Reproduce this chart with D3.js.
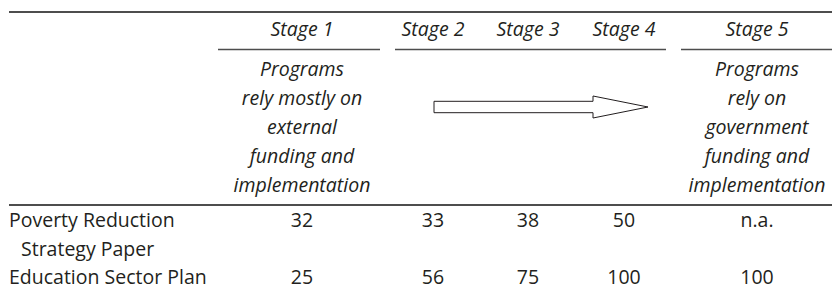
<!DOCTYPE html>
<html>
<head>
<meta charset="utf-8">
<script src="https://cdn.jsdelivr.net/npm/d3@7/dist/d3.min.js"></script>
<style>
  html, body { margin: 0; padding: 0; background: #fff; }
  svg { display: block; }
  text { font-family: "Open Sans", "Noto Sans", sans-serif; fill: #231f20; }
</style>
</head>
<body>
<svg id="chart" width="832" height="290"></svg>
<script>
// ---- data ----
const stages = ["Stage 1", "Stage 2", "Stage 3", "Stage 4", "Stage 5"];
const stage1Note = ["Programs", "rely mostly on", "external", "funding and", "implementation"];
const stage5Note = ["Programs", "rely on", "government", "funding and", "implementation"];
const rowLabels = ["Poverty Reduction Strategy Paper", "Education Sector Plan"];
const povertyValues = ["32", "33", "38", "50", "n.a."];
const educationValues = ["25", "56", "75", "100", "100"];

// ---- layout ----
const W = 832, H = 290;
const svg = d3.select("#chart");
const lineColor = "#4d4d4d";
const fs = 19.5;

const x = d3.scaleOrdinal().domain(stages).range([302, 433, 528, 624, 757]);
const groups = [
  {x0: 218, x1: 380},
  {x0: 395, x1: 666},
  {x0: 681, x1: 832}
];
const noteY = d3.scaleLinear().domain([0, 1]).range([76, 105]);

// top rule
svg.append("line").attr("x1", 9).attr("x2", W).attr("y1", 12).attr("y2", 12)
  .attr("stroke", lineColor).attr("stroke-width", 1.8);

// stage headers
svg.selectAll("text.stage").data(stages).join("text")
  .attr("class", "stage")
  .attr("x", d => x(d)).attr("y", 36)
  .attr("text-anchor", "middle")
  .attr("font-style", "italic")
  .attr("font-size", fs)
  .text(d => d);

svg.selectAll("line.grp").data(groups).join("line")
  .attr("class", "grp")
  .attr("x1", d => d.x0).attr("x2", d => d.x1)
  .attr("y1", 49.5).attr("y2", 49.5)
  .attr("stroke", lineColor).attr("stroke-width", 1.5);

// notes
function note(lines, stage) {
  svg.append("g").selectAll("text").data(lines).join("text")
    .attr("x", x(stage)).attr("y", (d, i) => noteY(i))
    .attr("text-anchor", "middle")
    .attr("font-style", "italic")
    .attr("font-size", fs)
    .text(d => d);
}
note(stage1Note, "Stage 1");
note(stage5Note, "Stage 5");

// arrow
const ax0 = 434, ax1 = 648, ahb = 593, acy = 107, sh = 5.7, hh = 11;
svg.append("path")
  .attr("d", d3.line()([
    [ax0, acy - sh], [ahb, acy - sh], [ahb, acy - hh], [ax1, acy],
    [ahb, acy + hh], [ahb, acy + sh], [ax0, acy + sh]
  ]) + "Z")
  .attr("fill", "#fff").attr("stroke", "#231f20").attr("stroke-width", 1);

// bottom rule of header
svg.append("line").attr("x1", 9).attr("x2", W).attr("y1", 205).attr("y2", 205)
  .attr("stroke", lineColor).attr("stroke-width", 1.8);

// body rows
const rowY = [227, 284];
const rows = [povertyValues, educationValues];

svg.append("text").attr("x", 9).attr("y", rowY[0]).attr("font-size", fs).text("Poverty Reduction");
svg.append("text").attr("x", 21).attr("y", 255.5).attr("font-size", fs).text("Strategy Paper");
svg.append("text").attr("x", 9).attr("y", rowY[1]).attr("font-size", fs).text(rowLabels[1]);

rows.forEach((vals, r) => {
  svg.append("g").selectAll("text").data(vals).join("text")
    .attr("x", (d, i) => x(stages[i]))
    .attr("y", rowY[r])
    .attr("text-anchor", "middle")
    .attr("font-size", fs)
    .text(d => d);
});
</script>
</body>
</html>
